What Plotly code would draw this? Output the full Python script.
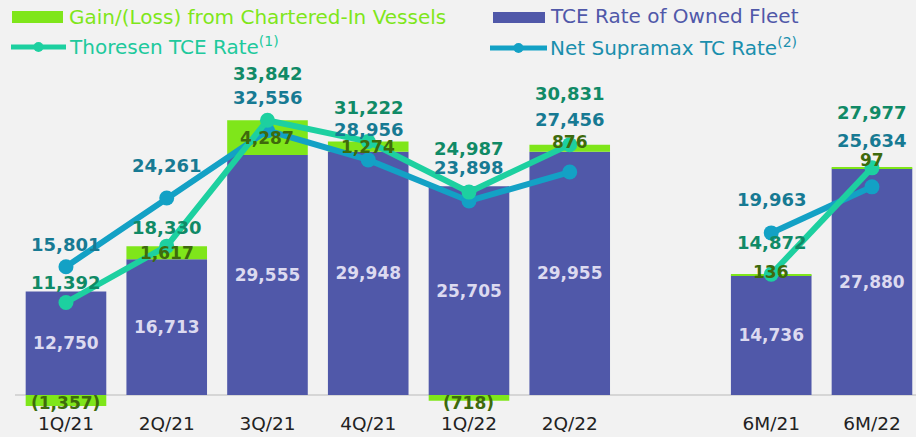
import plotly.graph_objects as go

categories = ["1Q/21", "2Q/21", "3Q/21", "4Q/21", "1Q/22", "2Q/22", "6M/21", "6M/22"]
owned_tce = [12750, 16713, 29555, 29948, 25705, 29955, 14736, 27880]
chartered_gain = [-1357, 1617, 4287, 1274, -718, 876, 136, 97]
thoresen_tce = [11392, 18330, 33842, 31222, 24987, 30831, 14872, 27977]
net_supramax = [15801, 24261, 32556, 28956, 23898, 27456, 19963, 25634]

# label vertical offsets (px) - styling only
thor_shift = [20, 19, 47, 34, 44, 51, 32, 55]
net_shift = [22, 33, 33, 30, 33, 53, 33, 46]
gain_shift = [-2, 0, 0, 0, -5, 6, 3, 8]

SPACER = " "
split = 6
x_cats = categories[:split] + [SPACER] + categories[split:]


def with_gap(vals):
    return list(vals[:split]) + [None] + list(vals[split:])


def fmt(v):
    return f"({abs(v):,})" if v < 0 else f"{v:,}"


PURPLE = "#5058a9"
GREEN = "#7fe61a"
TEAL = "#1dd0a0"
BLUE = "#13a1c5"
FONT = "DejaVu Sans"

W, H = 916, 437
ML, MR, MT, MB = 15, 0, 0, 27
PW, PH = W - ML - MR, H - MT - MB

fig = go.Figure()

fig.add_trace(go.Bar(
    x=x_cats, y=with_gap(owned_tce), name="TCE Rate of Owned Fleet",
    marker=dict(color=PURPLE, line=dict(width=0)),
    text=with_gap([fmt(v) for v in owned_tce]),
    textposition="inside", insidetextanchor="middle", constraintext="none",
    textfont=dict(family=FONT, size=17, color="#dcdaf0", weight="bold"),
    textangle=0, width=0.8,
))
fig.add_trace(go.Bar(
    x=x_cats, y=with_gap(chartered_gain), name="Gain/(Loss) from Chartered-In Vessels",
    marker=dict(color=GREEN, line=dict(width=0)),
    textposition="none", width=0.8, cliponaxis=False,
))
fig.add_trace(go.Scatter(
    x=x_cats, y=with_gap(net_supramax), mode="lines+markers",
    name="Net Supramax TC Rate",
    line=dict(color=BLUE, width=6), marker=dict(size=15, color=BLUE),
    connectgaps=False, cliponaxis=False,
))
fig.add_trace(go.Scatter(
    x=x_cats, y=with_gap(thoresen_tce), mode="lines+markers",
    name="Thoresen TCE Rate",
    line=dict(color=TEAL, width=6), marker=dict(size=15, color=TEAL),
    connectgaps=False, cliponaxis=False,
))

# gain/(loss) labels at the middle of each green segment, drawn above the lines
for cat, o, g, s in zip(categories, owned_tce, chartered_gain, gain_shift):
    mid = (o + g / 2) if g >= 0 else g / 2
    fig.add_annotation(x=cat, y=mid, text=f"<b>{fmt(g)}</b>", showarrow=False,
                       yshift=s, font=dict(family=FONT, size=17, color="#3e6a0c"))

for cat, v, s in zip(categories, net_supramax, net_shift):
    fig.add_annotation(x=cat, y=v, text=f"<b>{v:,}</b>", showarrow=False,
                       yshift=s, font=dict(family=FONT, size=18, color="#177a93"))
for cat, v, s in zip(categories, thoresen_tce, thor_shift):
    fig.add_annotation(x=cat, y=v, text=f"<b>{v:,}</b>", showarrow=False,
                       yshift=s, font=dict(family=FONT, size=18, color="#108a66"))


# ---- manual legend (pixel layout -> paper coords) ----
def px(xpix):
    return (xpix - ML) / PW


def py(ypix):
    return 1 - (ypix - MT) / PH


def legend_rect(x0, x1, y0, y1, color):
    fig.add_shape(type="rect", xref="paper", yref="paper",
                  x0=px(x0), x1=px(x1), y0=py(y1), y1=py(y0),
                  fillcolor=color, line=dict(width=0), layer="above")


def legend_line(x0, x1, yy, color):
    fig.add_shape(type="line", xref="paper", yref="paper",
                  x0=px(x0), x1=px(x1), y0=py(yy), y1=py(yy),
                  line=dict(color=color, width=5), layer="above")
    cx = (x0 + x1) / 2
    r = 5
    fig.add_shape(type="circle", xref="paper", yref="paper",
                  x0=px(cx - r), x1=px(cx + r), y0=py(yy + r), y1=py(yy - r),
                  fillcolor=color, line=dict(width=0), layer="above")


def legend_text(x0, yy, text, color):
    fig.add_annotation(xref="paper", yref="paper", x=px(x0), y=py(yy),
                       xanchor="left", yanchor="middle", showarrow=False,
                       text=text, font=dict(family=FONT, size=20, color=color))


legend_rect(12, 63, 11, 23, GREEN)
legend_text(67, 17, "Gain/(Loss) from Chartered-In Vessels", "#7fe61a")
legend_line(11, 66, 47, TEAL)
legend_text(67, 46, "Thoresen TCE Rate<sup>(1)</sup>", "#20c99c")
legend_rect(493, 545, 12, 23, PURPLE)
legend_text(548, 16, "TCE Rate of Owned Fleet", PURPLE)
legend_line(490, 547, 48, BLUE)
legend_text(548, 47, "Net Supramax TC Rate<sup>(2)</sup>", "#1a8fad")

fig.update_layout(
    width=W, height=H,
    barmode="relative", bargap=0.2,
    paper_bgcolor="#f2f2f2", plot_bgcolor="#f2f2f2",
    margin=dict(l=ML, r=MR, t=MT, b=MB),
    showlegend=False,
    xaxis=dict(type="category", categoryorder="array", categoryarray=x_cats,
               range=[-0.506, 8.437], showgrid=False, ticks="",
               tickfont=dict(family=FONT, size=18.5, color="#222222"),
               showline=False, automargin=False),
    yaxis=dict(range=[-1847, 48645], visible=True, showgrid=False,
               showticklabels=False, zeroline=True, zerolinecolor="#d6d6d6",
               zerolinewidth=2, automargin=False),
    font=dict(family=FONT),
)

fig.write_html("out.html",
               config={"displayModeBar": False},
               post_script="document.body.style.margin='0';"
                           "document.body.style.background='#f2f2f2';")
